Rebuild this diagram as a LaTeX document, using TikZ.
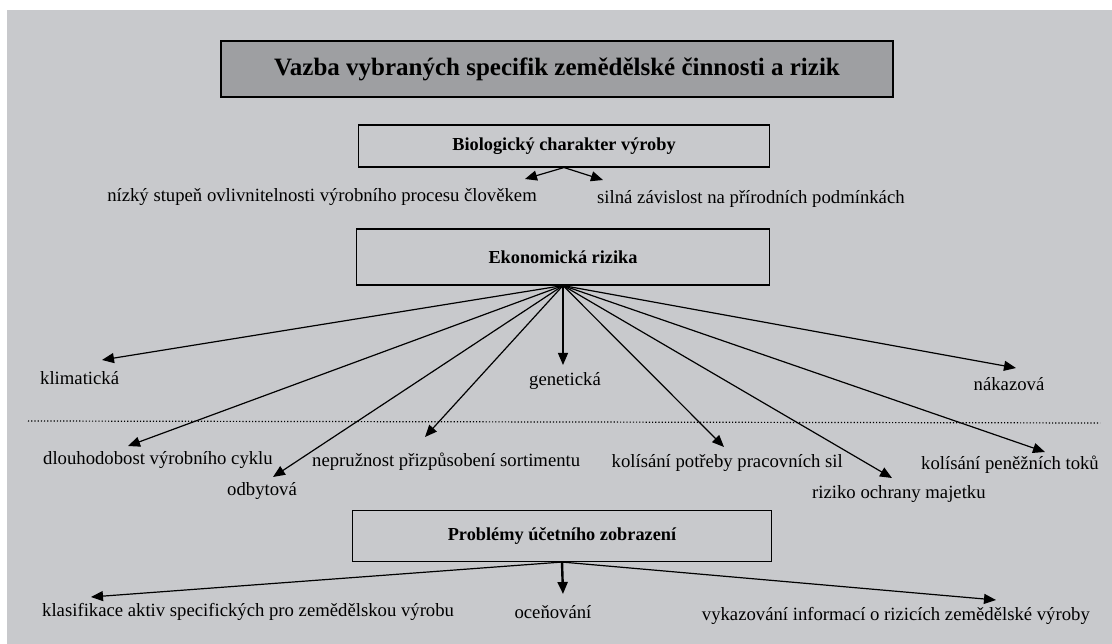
\documentclass[tikz,border=0pt]{standalone}
\usepackage{fontspec}
\setmainfont{Liberation Serif}
\usetikzlibrary{arrows.meta}

\definecolor{paper}{RGB}{200,201,204}
\definecolor{titlegray}{RGB}{158,159,162}

\tikzset{
  box/.style={draw, line width=1.1pt, fill=paper, font=\bfseries\fontsize{18.3}{21}\selectfont},
  lbl/.style={inner sep=0pt, font=\fontsize{18.7}{22}\selectfont},
  arr/.style={line width=1.2pt, -{Triangle[length=12pt,width=10pt]}}
}

\begin{document}
\begin{tikzpicture}[x=1pt,y=-1pt]

% 1. Page and background
\useasboundingbox (0,0) rectangle (1112,644);
\fill[white] (0,0) rectangle (1112,644);
\fill[paper] (7,10) rectangle (1112,644);

% 2. Boxes
\node[box, fill=titlegray, minimum width=672pt, minimum height=56pt,
      font=\bfseries\fontsize{25}{29}\selectfont] (title) at (557,69)
      {\raisebox{-3pt}{Vazba vybraných specifik zemědělské činnosti a rizik}};
\node[box, minimum width=411pt, minimum height=42pt] (bio) at (564,146)
      {Biologický charakter výroby};
\node[box, minimum width=413pt, minimum height=56pt] (ekon) at (563,257)
      {Ekonomická rizika};
\node[box, minimum width=419pt, minimum height=51pt] (probl) at (562,536)
      {Problémy účetního zobrazení};

% 3. Labels under the biological box
\node[lbl, anchor=east] (nizky) at (537,197) {nízký stupeň ovlivnitelnosti výrobního procesu člověkem};
\node[lbl, anchor=west] (silna) at (597,199) {silná závislost na přírodních podmínkách};

% 4. Labels of the economic risks
\node[lbl, anchor=west] (klim) at (40,378) {klimatická};
\node[lbl] (genet) at (565,381) {genetická};
\node[lbl] (nakaz) at (1009,384) {nákazová};
\node[lbl, anchor=west] (dlouh) at (43,460) {dlouhodobost výrobního cyklu};
\node[lbl, anchor=west] (nepruz) at (312,462) {nepružnost přizpůsobení sortimentu};
\node[lbl, anchor=east] (kolpotr) at (843,463) {kolísání potřeby pracovních sil};
\node[lbl, anchor=west] (kolpen) at (921,465) {kolísání peněžních toků};
\node[lbl, anchor=west] (odbyt) at (227,491) {odbytová};
\node[lbl, anchor=west] (riziko) at (812,494) {riziko ochrany majetku};

% 5. Labels of the accounting problems
\node[lbl, anchor=west] (klasif) at (42,612) {klasifikace aktiv specifických pro zemědělskou výrobu};
\node[lbl] (ocen) at (553,612) {oceňování};
\node[lbl, anchor=east] (vykaz) at (1090,616) {vykazování informací o rizicích zemědělské výroby};

% 6. Arrow tips
\coordinate (tNizky) at (525,179);
\coordinate (tSilna) at (603,180);
\coordinate (tKlim) at (102,360);
\coordinate (tGenet) at (563,365);
\coordinate (tNakaz) at (1016,368);
\coordinate (tDlouh) at (128,446);
\coordinate (tNepruz) at (425,437);
\coordinate (tOdbyt) at (273,477);
\coordinate (tKolpotr) at (724,447);
\coordinate (tRiziko) at (892,478);
\coordinate (tKolpen) at (1045,452);
\coordinate (tKlasif) at (91,597);
\coordinate (tOcen) at (563,594);
\coordinate (tVykaz) at (996,600);

% 7. Arrows
\draw[arr] (bio.south) -- (tNizky);
\draw[arr] (bio.south) -- (tSilna);
\foreach \t in {tKlim,tGenet,tNakaz,tDlouh,tNepruz,tOdbyt,tKolpotr,tRiziko,tKolpen}
  \draw[arr] (ekon.south) -- (\t);
\draw[arr] (probl.south) -- (tKlasif);
\draw[arr, line width=2.4pt] (probl.south) -- (tOcen);
\draw[arr] (probl.south) -- (tVykaz);

% 8. Dotted divider
\coordinate (dotL) at (28,421);
\coordinate (dotR) at (1100,423);
\draw[line width=1.2pt, dotted] (dotL) -- (dotR);

\end{tikzpicture}
\end{document}
